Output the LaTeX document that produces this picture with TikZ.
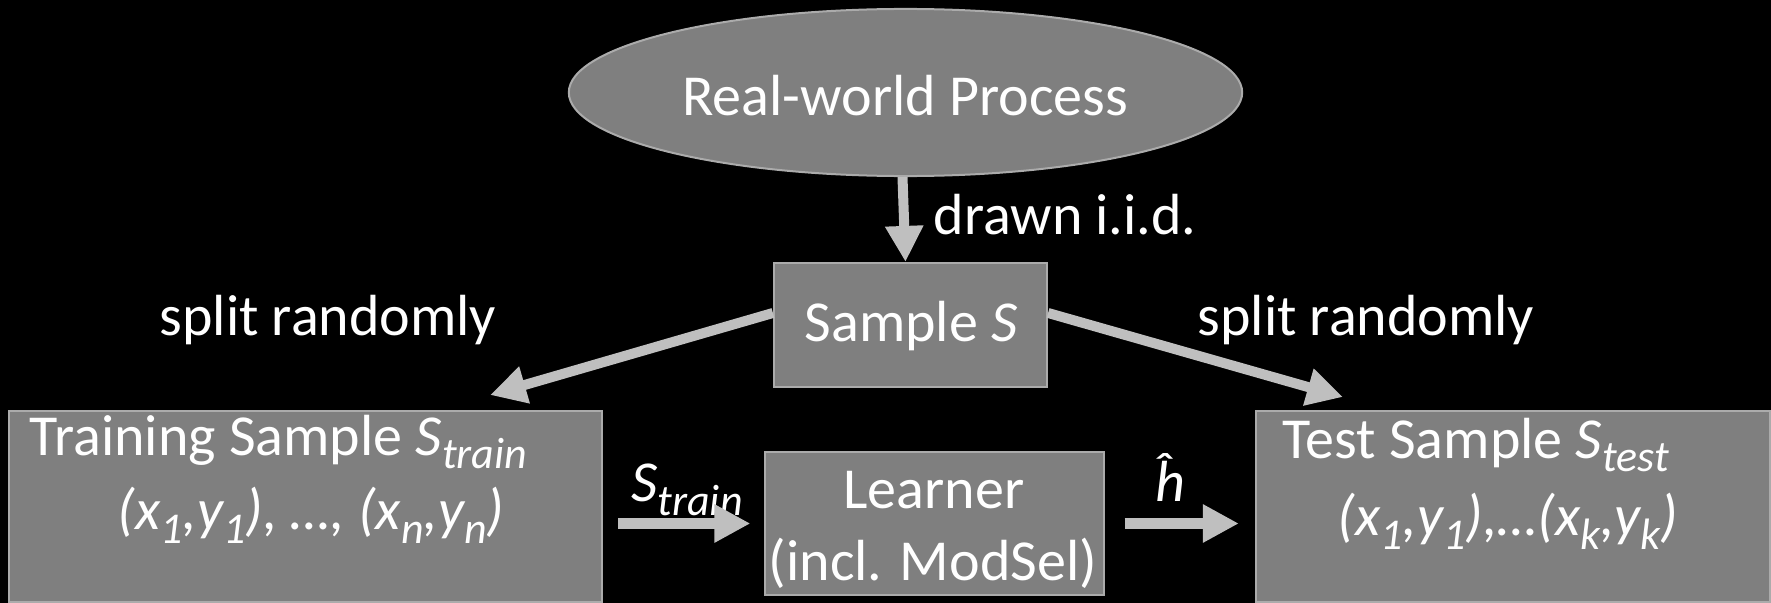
\documentclass[tikz,border=0pt]{standalone}
\usepackage{fontspec}
\setmainfont{Carlito}
\usetikzlibrary{shapes.geometric,arrows.meta}
\definecolor{boxfill}{HTML}{7F7F7F}
\definecolor{boxline}{HTML}{ABABAB}
\definecolor{arrowgray}{HTML}{BFBFBF}
\newcommand\sbs[1]{\raisebox{-0.5ex}{\fontsize{12.5}{14}\selectfont\itshape #1}}
\begin{document}
\begin{tikzpicture}[x=0.01cm,y=-0.01cm,
  every node/.style={text=white,font=\fontsize{16.5}{20}\selectfont,inner sep=0pt},
  boxnode/.style={draw=boxline,line width=0.02cm,fill=boxfill,rectangle},
  ellnode/.style={draw=boxline,line width=0.02cm,fill=boxfill,ellipse},
  arr/.style={draw=arrowgray,line width=0.1cm,-{Triangle[length=0.36cm,width=0.36cm]}},
  txt/.style={}]
\fill[black] (0,0) rectangle (1771,603);
\useasboundingbox (0,0) rectangle (1771,603);
% shapes
\node[ellnode,minimum width=6.73cm,minimum height=1.67cm] (proc) at (905.5,92.5) {};
\node[boxnode,minimum width=2.73cm,minimum height=1.24cm] (sample) at (910.5,325) {};
\node[boxnode,minimum width=5.93cm,minimum height=1.91cm] (train) at (305.5,506.5) {};
\node[boxnode,minimum width=3.38cm,minimum height=1.43cm] (learner) at (934.5,523.5) {};
\node[boxnode,minimum width=5.14cm,minimum height=1.91cm] (test) at (1513,506.5) {};
% texts
\node[txt] (proct) at (905,96) {Real-world Process};
\node[txt,anchor=west] (iid) at (933,215) {drawn i.i.d.};
\node[txt] (splitl) at (328,320) {split randomly};
\node[txt] (splitr) at (1366,320) {split randomly};
\node[txt] (samplet) at (911,326) {Sample \textit{S}};
\node[txt,anchor=west] (train1) at (29,442) {Training Sample \textit{S}\sbs{train}};
\node[txt] (train2) at (311,515) {\itshape (x\sbs{1},y\sbs{1}), …, (x\sbs{n},y\sbs{n})};
\node[txt] (learn1) at (934,490) {Learner};
\node[txt] (learn2) at (933,563) {(incl. ModSel)};
\node[txt,anchor=west] (test1) at (1282,445) {Test Sample \textit{S}\sbs{test}};
\node[txt] (test2) at (1508,521) {\itshape (x\sbs{1},y\sbs{1}),…(x\sbs{k},y\sbs{k})};
\node[txt] (strain) at (687,490) {\textit{S}\sbs{train}};
\node[txt] (hhat) at (1170,477) {\itshape \^{h}};
% connectors
\coordinate (ltip) at (490,395);
\coordinate (rtip) at (1343,397);
\draw[arr] ([xshift=-0.03cm]proc.south) -- ([xshift=-0.05cm]sample.north);
\draw[arr] ([yshift=0.12cm]sample.west) -- (ltip);
\draw[arr] ([yshift=0.12cm]sample.east) -- (rtip);
\draw[arr] ([xshift=0.15cm]train.east |- learner.west) -- ([xshift=-0.14cm]learner.west);
\draw[arr] ([xshift=0.2cm]learner.east) -- ([xshift=-0.16cm]test.west |- learner.east);
\end{tikzpicture}
\end{document}
